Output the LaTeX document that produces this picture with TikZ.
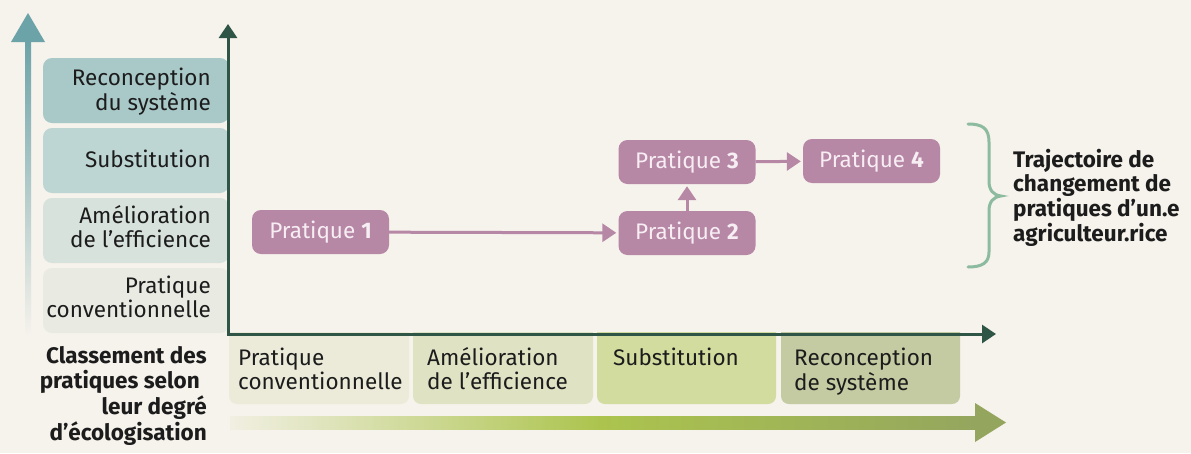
\documentclass[tikz,border=0pt]{standalone}
\usepackage{fontspec}
\setmainfont{Fira Sans}
\usetikzlibrary{arrows.meta}
\definecolor{bgc}{HTML}{F6F2EC}
\definecolor{purp}{HTML}{B787A6}
\definecolor{axisc}{HTML}{2E5546}
\definecolor{bracec}{HTML}{8CBBA0}
\definecolor{tealc}{HTML}{6CA3A8}
\definecolor{lA}{HTML}{A9C8C8}
\definecolor{lB}{HTML}{BDD6D3}
\definecolor{lC}{HTML}{D7E2DC}
\definecolor{lD}{HTML}{E9EBE3}
\definecolor{bA}{HTML}{ECEBDA}
\definecolor{bB}{HTML}{E0E3C3}
\definecolor{bC}{HTML}{D1DC9E}
\definecolor{bD}{HTML}{C4CAA1}
\definecolor{gL}{HTML}{F1EFE2}
\definecolor{gM}{HTML}{ACC44E}
\definecolor{gR}{HTML}{94A65E}
\definecolor{txt}{HTML}{1C1C1C}
\definecolor{ptxt}{HTML}{F7EEF3}
\newcommand{\mystack}[2]{\begin{tabular}[t]{@{}#1@{}}#2\end{tabular}}
\begin{document}
\begin{tikzpicture}[x=1pt,y=-1pt,
  lbl/.style={font=\fontsize{22.5}{24.6}\selectfont, text=txt, inner sep=0pt},
  blbl/.style={font=\fontsize{22.5}{24.6}\selectfont\bfseries, text=txt, inner sep=0pt},
  prat/.style={fill=purp, text=ptxt, rounded corners=9pt, minimum width=137pt, minimum height=44pt, inner sep=0pt, font=\fontsize{22.5}{24.6}\selectfont},
  parr/.style={draw=purp, line width=3pt, -{Triangle[width=18pt,length=14pt]}, shorten >=2pt},
  axisline/.style={draw=axisc, line width=3pt, {Triangle[width=18pt,length=14pt]}-{Triangle[width=18pt,length=14pt]}},
  bracel/.style={draw=bracec, line width=3pt, line cap=round}
]
\useasboundingbox (0,0) rectangle (1191,453);
\clip (0,0) rectangle (1191,453);
\fill[bgc] (0,0) rectangle (1191,453);

% left vertical gradient arrow
\shade[top color=tealc, bottom color=bgc] (25,40) rectangle (31,336);
\fill[tealc] (11,42) -- (28,13) -- (45,42) -- cycle;

% left category boxes
\fill[lA, rounded corners=9pt] (43,58) rectangle (229,123);
\fill[lB, rounded corners=9pt] (43,128) rectangle (229,193);
\fill[lC, rounded corners=9pt] (43,198) rectangle (229,263);
\fill[lD, rounded corners=9pt] (43,268) rectangle (229,333);
\node[lbl, anchor=base east] (la) at (211,85) {\mystack{r}{Reconception\\du système}};
\node[lbl, anchor=base east] (lb) at (211,167) {Substitution};
\node[lbl, anchor=base east] (lc) at (211,223) {\mystack{r}{Amélioration\\de l’efficience}};
\node[lbl, anchor=base east] (ld) at (211,293) {\mystack{r}{Pratique\\conventionnelle}};

% bottom category boxes
\fill[bA, rounded corners=8pt] (229,320) rectangle (409,404);
\fill[bB, rounded corners=8pt] (413,320) rectangle (593,404);
\fill[bC, rounded corners=8pt] (597,320) rectangle (776,404);
\fill[bD, rounded corners=8pt] (781,320) rectangle (960,404);
\fill[bgc] (229,320) rectangle (1000,332);
\node[lbl, anchor=base west] (ba) at (238,365) {\mystack{l}{Pratique\\conventionnelle}};
\node[lbl, anchor=base west] (bb) at (427,365) {\mystack{l}{Amélioration\\de l’efficience}};
\node[lbl, anchor=base west] (bc) at (613,365) {Substitution};
\node[lbl, anchor=base west] (bd) at (794,365) {\mystack{l}{Reconception\\de système}};

% axes
\path[axisline] (228,24) -- (228,334) -- (996,334);

% bottom gradient arrow
\shade[left color=gL, right color=gM] (230,416) rectangle (600,429);
\shade[left color=gM, right color=gR] (599,416) rectangle (977,429);
\fill[gR] (975,403) -- (1006,422.5) -- (975,442) -- cycle;

% left bottom caption
\node[blbl, anchor=base east] (cap) at (207,363) {\mystack{r}{Classement des\\pratiques selon\kern7pt\\leur degré\\d’écologisation}};

% practices
\node[prat] (p1) at (320.5,232) {Pratique \textbf{1}};
\node[prat] (p2) at (687,233) {Pratique \textbf{2}};
\node[prat] (p3) at (687,162) {Pratique \textbf{3}};
\node[prat] (p4) at (871.5,161) {Pratique \textbf{4}};
\draw[parr] (p1) -- (p2);
\draw[parr] (p2) -- (p3);
\draw[parr] (p3) -- (p4);

% brace
\draw[bracel] (968,124) .. controls (982,124) and (989,128) .. (989,142) -- (989,181)
  .. controls (989,190) and (993,195) .. (1001,196)
  .. controls (993,197) and (989,202) .. (989,211) -- (989,252)
  .. controls (989,263) and (982,267) .. (968,267);

\node[blbl, anchor=base west, font=\fontsize{22.5}{23.3}\selectfont\bfseries] (traj) at (1013,167) {\mystack{l}{Trajectoire de\\changement de\\pratiques d’un.e\\agriculteur.rice}};
\end{tikzpicture}
\end{document}
